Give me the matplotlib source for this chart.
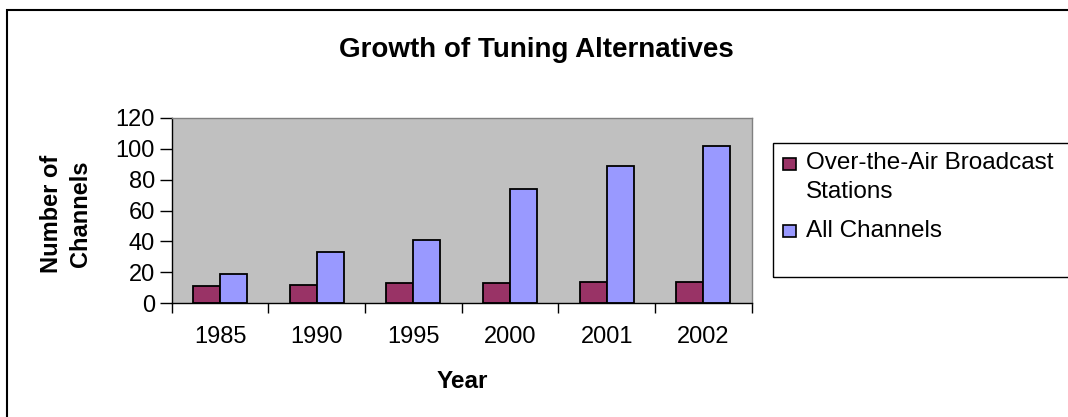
import matplotlib
matplotlib.use("Agg")
import matplotlib.pyplot as plt
from matplotlib.patches import Rectangle
import numpy as np

years = ["1985", "1990", "1995", "2000", "2001", "2002"]
broadcast = [11, 12, 13, 13, 14, 14]
all_channels = [19, 33, 41, 74, 89, 102]
series_names = ["Over-the-Air Broadcast\nStations", "All Channels"]
series_colors = ["#993366", "#9999FF"]
title = "Growth of Tuning Alternatives"
xlabel = "Year"
ylabel = "Number of\nChannels"

plt.rcParams['font.family'] = ['Liberation Sans', 'DejaVu Sans']

W, H = 1068, 417
fig = plt.figure(figsize=(W / 100, H / 100), dpi=100)

def fx(px):
    return px / W

def fy(py):
    return 1 - py / H

# outer frame
fig.patches.append(Rectangle((fx(7), fy(440)), fx(1100) - fx(7), fy(10) - fy(440),
                             transform=fig.transFigure, fill=False, edgecolor='black',
                             linewidth=1.5))

ax = fig.add_axes([fx(171.7), fy(303.3), fx(751.7) - fx(171.7), fy(117.7) - fy(303.3)])
ax.set_facecolor('#C0C0C0')

x = np.arange(len(years))
bw = 0.28
ax.bar(x - bw / 2, broadcast, width=bw, color=series_colors[0], edgecolor='black', linewidth=1.3,
       label=series_names[0])
ax.bar(x + bw / 2, all_channels, width=bw, color=series_colors[1], edgecolor='black', linewidth=1.3,
       label=series_names[1])

ax.set_xlim(-0.5, len(years) - 0.5)
ax.set_ylim(0, 120)
ax.set_yticks(np.arange(0, 121, 20))
ax.tick_params(axis='y', labelsize=17, length=9, width=1, pad=3, direction='out')
ax.set_xticks(x)
ax.set_xticklabels(years)
ax.set_xticks(np.arange(-0.5, len(years), 1), minor=True)
ax.tick_params(axis='x', which='major', length=0, labelsize=17, pad=16)
ax.tick_params(axis='x', which='minor', length=7, width=1, direction='out')

for s in ['left', 'bottom']:
    ax.spines[s].set_color('black')
    ax.spines[s].set_linewidth(1)
for s in ['top', 'right']:
    ax.spines[s].set_color('#808080')
    ax.spines[s].set_linewidth(1)

fig.text(fx(536), fy(57.3), title, ha='center', va='baseline', fontsize=20, fontweight='bold')
fig.text(fx(462), fy(388.3), xlabel, ha='center', va='baseline', fontsize=17.5, fontweight='bold')
fig.text(fx(66), fy(214), ylabel, ha='center', va='center', fontsize=17, fontweight='bold',
         rotation=90, linespacing=1.35)

# legend frame
fig.patches.append(Rectangle((fx(773), fy(277)), fx(1100) - fx(773), fy(143) - fy(277),
                             transform=fig.transFigure, fill=False, edgecolor='black',
                             linewidth=1))
# legend entries (Excel style: marker aligned with first text line)
legend_rows = [(157.5, [169.3, 198.3]), (224.5, [236.7])]
for (mtop, baselines), name, col in zip(legend_rows, series_names, series_colors):
    fig.patches.append(Rectangle((fx(783), fy(mtop + 12.5)), fx(795.5) - fx(783),
                                 fy(mtop) - fy(mtop + 12.5), transform=fig.transFigure,
                                 facecolor=col, edgecolor='black', linewidth=1.2))
    for line, bl in zip(name.split("\n"), baselines):
        fig.text(fx(806), fy(bl), line, ha='left', va='baseline', fontsize=17.5)

fig.savefig("out.png", dpi=100)
